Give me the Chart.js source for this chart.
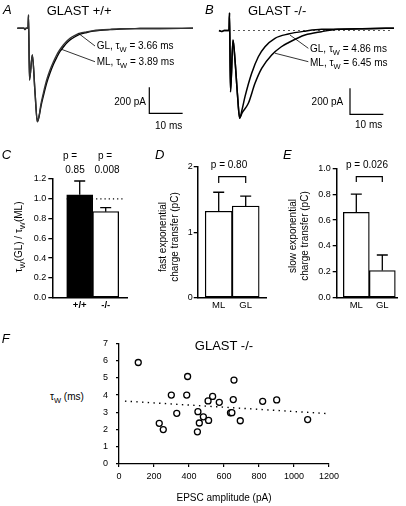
<!DOCTYPE html>
<html>
<head>
<meta charset="utf-8">
<script src="https://cdn.jsdelivr.net/npm/chart.js@4.4.1/dist/chart.umd.min.js"></script>
<style>
  html, body { margin: 0; padding: 0; background: #fff; }
  #fig { position: relative; width: 406px; height: 506px; overflow: hidden; background: #fff; }
  canvas { position: absolute; }
  .t { position: absolute; font-family: 'Liberation Sans', Arial, sans-serif; font-size: 10px; line-height: 1; white-space: nowrap; color: #000; }
  .t sub { font-size: 7.5px; vertical-align: -2.5px; line-height: 0; }
  .big { font-size: 13px; }
  .it { font-style: italic; }
  .c { transform: translateX(-50%); }
  .r { transform: translateX(-100%); }
  .rot { transform: translate(-50%, -50%) rotate(-90deg); text-align: center; line-height: 11.5px; }
</style>
</head>
<body>
<div id="fig">
  <canvas id="chartA" width="203" height="140" style="left:0;top:0"></canvas>
  <canvas id="chartB" width="203" height="140" style="left:203px;top:0"></canvas>
  <canvas id="chartC" width="135" height="165" style="left:0;top:150px"></canvas>
  <canvas id="chartD" width="130" height="165" style="left:140px;top:150px"></canvas>
  <canvas id="chartE" width="136" height="165" style="left:270px;top:150px"></canvas>
  <canvas id="chartF" width="250" height="175" style="left:100px;top:330px"></canvas>

  <!-- panel A -->
  <div class="t big it" style="left:3px;top:3.3px">A</div>
  <div class="t big" style="left:46.7px;top:4.3px">GLAST +/+</div>
  <div class="t" style="left:96.7px;top:41.4px">GL, τ<sub>W</sub> = 3.66 ms</div>
  <div class="t" style="left:96.7px;top:57px">ML, τ<sub>W</sub> = 3.89 ms</div>
  <div class="t r" style="left:146px;top:97px">200 pA</div>
  <div class="t" style="left:155px;top:121.4px">10 ms</div>

  <!-- panel B -->
  <div class="t big it" style="left:205px;top:3.3px">B</div>
  <div class="t big" style="left:248px;top:4.3px">GLAST -/-</div>
  <div class="t" style="left:310px;top:43.7px">GL, τ<sub>W</sub> = 4.86 ms</div>
  <div class="t" style="left:310px;top:58px">ML, τ<sub>W</sub> = 6.45 ms</div>
  <div class="t r" style="left:343.3px;top:97px">200 pA</div>
  <div class="t" style="left:355px;top:120.4px">10 ms</div>

  <!-- panel C -->
  <div class="t big it" style="left:1.7px;top:148.3px">C</div>
  <div class="t c" style="left:70px;top:151px">p =</div>
  <div class="t c" style="left:105px;top:151px">p =</div>
  <div class="t c" style="left:75px;top:164.5px">0.85</div>
  <div class="t c" style="left:107px;top:164.5px">0.008</div>
  <div class="t rot" style="left:19px;top:236.7px">τ<sub>W</sub>(GL) / τ<sub>W</sub>(ML)</div>

  <!-- panel D -->
  <div class="t big it" style="left:155px;top:148.3px">D</div>
  <div class="t c" style="left:229px;top:160px">p = 0.80</div>
  <div class="t rot" style="left:168.3px;top:236.5px">fast exponential<br>charge transfer (pC)</div>

  <!-- panel E -->
  <div class="t big it" style="left:283px;top:148.3px">E</div>
  <div class="t c" style="left:367px;top:160px">p = 0.026</div>
  <div class="t rot" style="left:298.3px;top:236px">slow exponential<br>charge transfer (pC)</div>

  <!-- panel F -->
  <div class="t big it" style="left:1.7px;top:331.6px">F</div>
  <div class="t big c" style="left:224px;top:339.3px">GLAST -/-</div>
  <div class="t" style="left:50px;top:392.4px">τ<sub>W</sub> (ms)</div>
  <div class="t c" style="left:224px;top:492.7px">EPSC amplitude (pA)</div>
</div>

<script>
// A: EPSC traces GLAST +/+ (tempo em ms, corrente em pA)
const timeA = [-3.5, -1.5, -1.2, -0.9, -0.3, -0.15, 0.15, 1.0, 1.8, 2.5, 3.0, 3.6, 4.3, 5.3, 6.3, 7.3, 8.3, 9.3, 10.3, 11.3, 12.3, 13.8, 15.3, 17.3, 19.3, 21.3, 24.3, 27.3, 33.3, 39.3, 49.2];
const currentA_GL = [0, 0, -9, 0, 0, 102, -398, -205, -490, -718, -675, -582, -500, -398, -321, -259, -205, -163, -128, -100, -77, -55, -38, -27, -18, -13, -8, -4, -2, -1, 0];
const currentA_ML = [0, 0, -9, 0, 0, 102, -398, -205, -490, -718, -682, -598, -521, -421, -344, -278, -225, -178, -144, -113, -90, -65, -45, -32, -22, -16, -10, -5, -2, -1, 0];

// B: EPSC traces GLAST -/-
const timeB_GL = [-3.3, -2.4, -1.8, -0.3, -0.15, 0.15, 0.9, 1.5, 2.25, 2.9, 3.6, 4.5, 6.5, 8.5, 10.5, 13.5, 17.5, 22.5, 27.5, 33, 42, 49.2];
const currentB_GL = [0, -8, 0, 0, 135, -471, -73, -227, -496, -675, -611, -509, -329, -202, -125, -60, -27, -5, 9, 10, 15, 18];
const timeB_ML = [-3.3, -2.4, -1.8, -0.3, -0.15, 0.15, 0.9, 1.5, 2.25, 2.9, 3.6, 5.5, 7.5, 9.5, 12.5, 15.4, 17.5, 22.5, 27.4, 32.4, 42, 49.2];
const currentB_ML = [0, -8, 0, 0, 135, -471, -73, -227, -496, -675, -635, -560, -406, -291, -188, -125, -94, -35, -9, 9, 14, 18];

// barras de escala
const scaleBarMs = 10;
const scaleBarPA = 200;

// C: razão tau GL/ML
const labelsC = ['+/+', '-/-'];
const ratioC = [1.04, 0.87];
const errC = [0.14, 0.04];

// D: transferência de carga rápida
const labelsD = ['ML', 'GL'];
const fastD = [1.32, 1.40];
const errD = [0.29, 0.15];

// E: transferência de carga lenta
const labelsE = ['ML', 'GL'];
const slowE = [0.66, 0.21];
const errE = [0.14, 0.12];

// F: tau vs amplitude
const ampF = [110, 392, 299, 387, 330, 230, 253, 451, 482, 459, 512, 448, 509, 535, 573, 657, 653, 637, 645, 693, 821, 901, 1078];
const tauF = [5.89, 5.08, 4.0, 4.0, 2.94, 2.36, 2.0, 3.04, 2.74, 2.38, 2.53, 1.87, 3.66, 3.92, 3.58, 4.87, 3.74, 2.97, 2.98, 2.51, 3.64, 3.72, 2.58];
const fitX = [34, 1187];
const fitY = [3.65, 2.93];

Chart.defaults.font.family = "'Liberation Sans', Arial, sans-serif";
Chart.defaults.color = '#000';

const toXY = (xs, ys) => xs.map((x, i) => ({ x: x, y: ys[i] }));

// Barras de erro (só para cima)
const errorBarPlugin = {
    id: 'errorBars',
    afterDatasetsDraw(chart) {
        const ctx = chart.ctx;
        const yScale = chart.scales.y;
        chart.data.datasets.forEach((ds, i) => {
            if (!ds.errorUp) return;
            chart.getDatasetMeta(i).data.forEach((bar, j) => {
                const top = yScale.getPixelForValue(ds.data[j].y + ds.errorUp[j]);
                ctx.save();
                ctx.strokeStyle = '#000';
                ctx.lineWidth = 1.3;
                ctx.beginPath();
                ctx.moveTo(bar.x, bar.y);
                ctx.lineTo(bar.x, top);
                ctx.moveTo(bar.x - 5.5, top);
                ctx.lineTo(bar.x + 5.5, top);
                ctx.stroke();
                ctx.restore();
            });
        });
    }
};

// Barra de escala e linhas de legenda nos traços
const scaleBarPlugin = {
    id: 'scaleBar',
    afterDatasetsDraw(chart, args, opts) {
        if (!opts.corner) return;
        const { x, y } = chart.scales;
        const ctx = chart.ctx;
        const w = x.getPixelForValue(scaleBarMs) - x.getPixelForValue(0);
        const h = y.getPixelForValue(0) - y.getPixelForValue(scaleBarPA);
        const cx = opts.corner[0], cy = opts.corner[1];
        ctx.save();
        ctx.strokeStyle = '#000';
        ctx.lineWidth = 1.2;
        ctx.beginPath();
        ctx.moveTo(cx, cy - h);
        ctx.lineTo(cx, cy);
        ctx.lineTo(cx + w, cy);
        ctx.stroke();
        ctx.lineWidth = 0.8;
        (opts.leaders || []).forEach(l => {
            ctx.beginPath();
            ctx.moveTo(x.getPixelForValue(l[0]), y.getPixelForValue(l[1]));
            ctx.lineTo(x.getPixelForValue(l[2]), y.getPixelForValue(l[3]));
            ctx.stroke();
        });
        ctx.restore();
    }
};

function traceDataset(xs, ys, extra) {
    return Object.assign({
        data: toXY(xs, ys),
        borderColor: '#000',
        borderWidth: 1.4,
        pointRadius: 0,
        cubicInterpolationMode: 'monotone',
        fill: false
    }, extra || {});
}

function traceChart(id, datasets, xr, yr, barOpts) {
    new Chart(document.getElementById(id), {
        type: 'line',
        data: { datasets: datasets },
        options: {
            responsive: false,
            animation: false,
            layout: { padding: 0 },
            scales: {
                x: { type: 'linear', display: false, min: xr[0], max: xr[1] },
                y: { display: false, min: yr[0], max: yr[1] }
            },
            plugins: { legend: { display: false }, tooltip: { enabled: false }, scaleBar: barOpts }
        },
        plugins: [scaleBarPlugin]
    });
}

traceChart('chartA', [
    traceDataset(timeA, currentA_GL, { borderColor: '#333' }),
    traceDataset(timeA, currentA_ML)
], [-8.7, 52.2], [-859, 217.7], {
    corner: [149.3, 113.3],
    leaders: [[14.8, -38, 19.8, -136], [9.8, -162, 19.8, -257]]
});

traceChart('chartB', [
    traceDataset([1, 49], [0, 0], { borderWidth: 1.2, borderDash: [1.3, 3.7], cubicInterpolationMode: 'default' }),
    traceDataset(timeB_GL, currentB_GL, { borderWidth: 1.5 }),
    traceDataset(timeB_ML, currentB_ML, { borderWidth: 1.5 })
], [-8.1, 52.8], [-842.3, 234.6], {
    corner: [147, 114.3],
    leaders: [[18, -35, 23.5, -137], [13.5, -175, 23.5, -240]]
});

// Gráfico de barras com eixo x linear para controlar a posição das barras
function barChart(id, o) {
    const datasets = [{
        type: 'bar',
        data: toXY([0, 1], o.values),
        errorUp: o.errors,
        backgroundColor: o.colors,
        borderColor: '#000',
        borderWidth: 1.3,
        borderSkipped: false,
        barThickness: o.barPx,
        order: 1
    }].concat(o.extra || []);

    new Chart(document.getElementById(id), {
        type: 'bar',
        data: { datasets: datasets },
        options: {
            responsive: false,
            animation: false,
            layout: { padding: o.pad },
            scales: {
                x: {
                    type: 'linear', min: o.xr[0], max: o.xr[1], offset: false,
                    afterBuildTicks: s => { s.ticks = [{ value: 0 }, { value: 1 }]; },
                    ticks: { callback: v => o.labels[v], font: { size: 9.5, weight: o.bold ? 'bold' : 'normal' }, padding: 2, maxRotation: 0 },
                    grid: { drawOnChartArea: false, drawTicks: false, offset: false },
                    border: { color: '#000', width: 1.5 },
                    afterFit: s => { s.height = o.xH; }
                },
                y: {
                    min: o.yr[0], max: o.yr[1],
                    ticks: { stepSize: o.step, font: { size: 9 }, padding: o.tickPad, callback: v => v.toFixed(o.dec) },
                    grid: { drawOnChartArea: false, tickLength: 4, color: '#000', lineWidth: 1.3 },
                    border: { color: '#000', width: 1.5 },
                    afterFit: s => { s.width = o.yW; }
                }
            },
            plugins: { legend: { display: false }, tooltip: { enabled: false } }
        },
        plugins: [errorBarPlugin]
    });
}

function lineDs(pts, dash) {
    return {
        type: 'line', data: pts, borderColor: '#000', borderWidth: dash ? 1.3 : 1.2,
        borderDash: dash || [], pointRadius: 0, fill: false, order: 2
    };
}

barChart('chartC', {
    labels: labelsC, values: ratioC, errors: errC, colors: ['#000', '#fff'],
    barPx: 26, xr: [-1.054, 1.819], yr: [0, 1.2], step: 0.2, dec: 1, tickPad: 2,
    pad: { left: 28.3, top: 29, right: 8, bottom: 0 }, yW: 24, xH: 17.3, bold: true,
    extra: [lineDs([{ x: -0.5, y: 1 }, { x: 1.74, y: 1 }], [1.2, 3])]
});

barChart('chartD', {
    labels: labelsD, values: fastD, errors: errD, colors: ['#fff', '#fff'],
    barPx: 27, xr: [-0.778, 1.752], yr: [0, 2], step: 1, dec: 0, tickPad: 1,
    pad: { left: 39.7, top: 16.7, right: 4, bottom: 0 }, yW: 18, xH: 17.3,
    extra: [lineDs([{ x: 0, y: 1.75 }, { x: 0, y: 1.85 }, { x: 1, y: 1.85 }, { x: 1, y: 1.75 }])]
});

barChart('chartE', {
    labels: labelsE, values: slowE, errors: errE, colors: ['#fff', '#fff'],
    barPx: 26, xr: [-0.754, 1.592], yr: [0, 1], step: 0.2, dec: 1, tickPad: 2,
    pad: { left: 42.7, top: 18.3, right: 8.3, bottom: 0 }, yW: 24, xH: 17.3,
    extra: [lineDs([{ x: 0, y: 0.894 }, { x: 0, y: 0.935 }, { x: 1, y: 0.935 }, { x: 1, y: 0.894 }])]
});

// F: dispersão
new Chart(document.getElementById('chartF'), {
    type: 'scatter',
    data: {
        datasets: [{
            data: toXY(ampF, tauF),
            pointRadius: 3,
            pointBorderWidth: 1.3,
            pointBackgroundColor: '#fff',
            pointBorderColor: '#000',
            order: 1
        }, {
            type: 'line',
            data: toXY(fitX, fitY),
            borderColor: '#000',
            borderWidth: 1.4,
            borderDash: [1.4, 4.3],
            pointRadius: 0,
            order: 2
        }]
    },
    options: {
        responsive: false,
        animation: false,
        layout: { padding: { left: 0, top: 9, right: 21, bottom: 0 } },
        scales: {
            x: {
                type: 'linear', min: 0, max: 1200,
                ticks: { stepSize: 200, font: { size: 9 }, padding: 4, maxRotation: 0, callback: v => String(v) },
                grid: { drawOnChartArea: false, tickLength: 3, color: '#000', lineWidth: 1.2 },
                border: { color: '#000', width: 1.3 },
                afterFit: s => { s.height = 41; }
            },
            y: {
                min: 0, max: 7,
                ticks: { stepSize: 1, font: { size: 9 }, padding: 8, callback: v => String(v) },
                grid: { drawOnChartArea: false, tickLength: 3, color: '#000', lineWidth: 1.2 },
                border: { color: '#000', width: 1.3 },
                afterFit: s => { s.width = 19; }
            }
        },
        plugins: { legend: { display: false }, tooltip: { enabled: false } }
    }
});
</script>
</body>
</html>
